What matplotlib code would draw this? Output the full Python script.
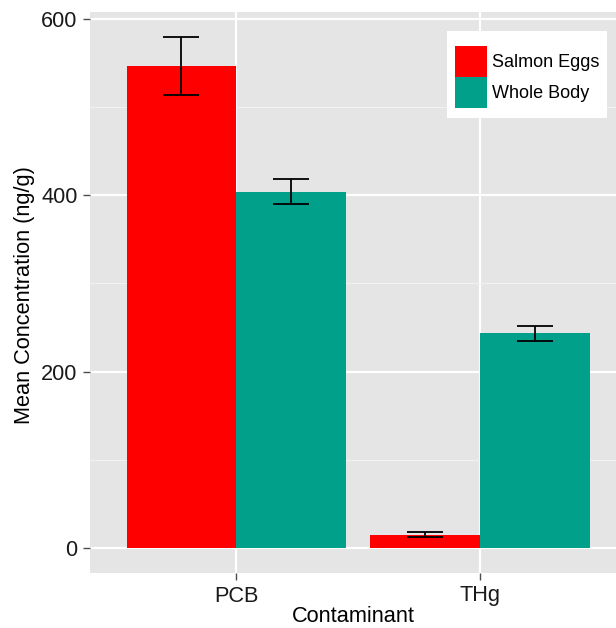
import numpy as np
import matplotlib.pyplot as plt
from matplotlib.patches import Patch, Rectangle

plt.rcParams['font.family'] = ['Liberation Sans', 'DejaVu Sans']

contaminants = ['PCB', 'THg']
groups = ['Salmon Eggs', 'Whole Body']
colors = ['#FF0000', '#00A08A']
means = {'Salmon Eggs': [547, 15], 'Whole Body': [404, 244]}
lower = {'Salmon Eggs': [514, 12], 'Whole Body': [390, 235]}
upper = {'Salmon Eggs': [579, 18], 'Whole Body': [418, 252]}

W, H = 616, 628
L, R, T, B = 90, 616, 12, 573
fig = plt.figure(figsize=(W / 100, H / 100), dpi=100)
ax = fig.add_axes([L / W, (H - B) / H, (R - L) / W, (B - T) / H])
ax.set_facecolor('#E5E5E5')


def px(xp, yp):
    # figure pixel -> axes fraction
    return (xp - L) / (R - L), (B - yp) / (B - T)


x = np.arange(1, len(contaminants) + 1)
bw = 0.45
for i, g in enumerate(groups):
    xs = x + (i - 0.5) * bw
    m = np.array(means[g])
    ax.bar(xs, m, width=bw, color=colors[i], zorder=3)
    err = [m - np.array(lower[g]), np.array(upper[g]) - m]
    ax.errorbar(xs, m, yerr=err, fmt='none', ecolor='black', elinewidth=1.3,
                capsize=13, capthick=1.3, zorder=4)

ax.set_xlim(0.4, 2.557)
ax.set_ylim(-28.4, 607.9)
ax.set_xticks(x)
ax.set_xticklabels(contaminants)
ax.set_yticks([0, 200, 400, 600])
ax.set_yticks([100, 300, 500], minor=True)
ax.grid(True, which='major', color='white', linewidth=1.6, zorder=1)
ax.grid(True, which='minor', axis='y', color='#F2F2F2', linewidth=0.8, zorder=1)
ax.tick_params(axis='both', which='major', length=5, width=1, color='#4D4D4D',
               labelsize=15.7, labelcolor='#1A1A1A', pad=4)
ax.tick_params(axis='both', which='minor', length=0)
for s in ax.spines.values():
    s.set_visible(False)
ax.set_axisbelow(True)

ax.set_xlabel('Contaminant', fontsize=15.7, labelpad=0)
ax.set_ylabel('Mean Concentration (ng/g)', fontsize=15.7)
ax.yaxis.set_label_coords(*px(35, 295))

# legend box
bx, by = px(447, 118)
ax.add_patch(Rectangle((bx, by), 160 / (R - L), 87 / (B - T), transform=ax.transAxes,
                       facecolor='white', edgecolor='none', zorder=6))
handles = [Patch(facecolor=c, edgecolor='none') for c in colors]
leg = ax.legend(handles, groups, loc='upper left', bbox_to_anchor=px(455, 46),
                borderaxespad=0, borderpad=0, fontsize=13, handlelength=1.78,
                handleheight=2.26, labelspacing=0.02, handletextpad=0.25,
                frameon=False)
leg.set_zorder(7)

fig.savefig('out.png', dpi=100)
